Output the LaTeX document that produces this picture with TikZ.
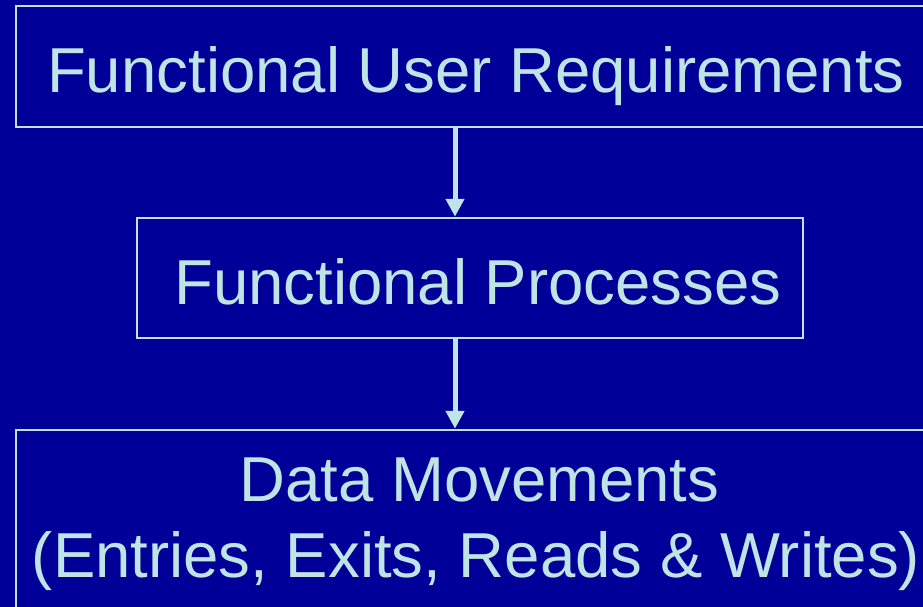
\documentclass[tikz,border=0pt]{standalone}
\usepackage{fontspec}
\setmainfont{Liberation Sans}
\usetikzlibrary{arrows.meta}
\definecolor{bgblue}{RGB}{0,0,153}
\definecolor{fgcyan}{RGB}{190,228,230}
\begin{document}
\begin{tikzpicture}[x=1pt,y=-1pt,
  box/.style={draw=fgcyan, line width=1.5pt, rectangle, inner sep=0pt},
  lbl/.style={text=fgcyan, anchor=base, inner sep=0pt, font=\fontsize{63.5}{76}\selectfont},
  flow/.style={draw=fgcyan, line width=5pt, -{Triangle[width=18pt,length=18pt]}, shorten >=0.5pt}]
\useasboundingbox (0,0) rectangle (923,607);
\clip (0,0) rectangle (923,607);
\fill[bgblue] (0,0) rectangle (923,607);
\node[box, minimum width=921pt, minimum height=121pt] (b1) at (476.5,66.5) {};
\node[box, minimum width=666pt, minimum height=120pt] (b2) at (470,278) {};
\node[box, minimum width=921pt, minimum height=210pt] (b3) at (476.5,535) {};
\node[lbl] (t1) at (476,93) {Functional User Requirements};
\node[lbl] (t2) at (478,304) {Functional Processes};
\node[lbl] (t3) at (479.5,501) {Data Movements};
\node[lbl] (t4) at (476,577) {(Entries, Exits, Reads \& Writes)};
\coordinate (ax) at (455,0);
\draw[flow] (ax |- b1.south) -- (ax |- b2.north);
\draw[flow] (ax |- b2.south) -- (ax |- b3.north);
\end{tikzpicture}
\end{document}
